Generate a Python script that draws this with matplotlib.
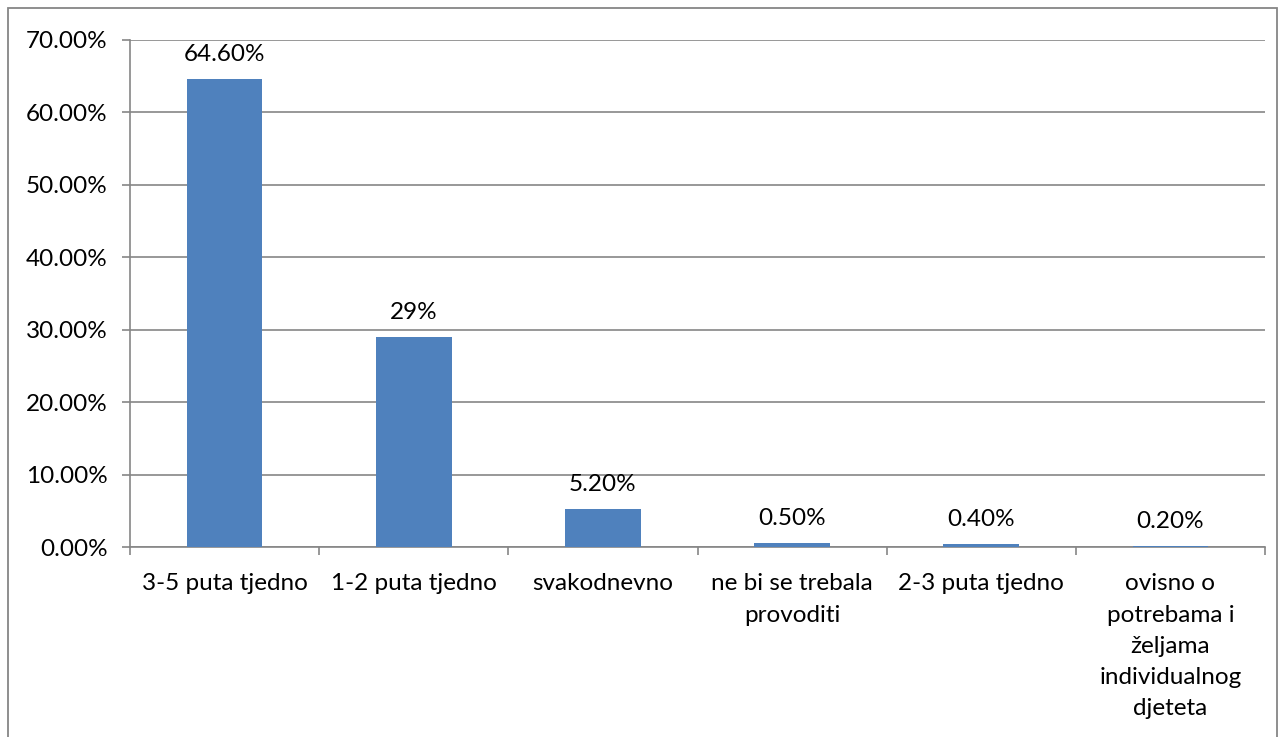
import matplotlib.pyplot as plt
import numpy as np
from matplotlib.patches import Rectangle
from matplotlib.ticker import FuncFormatter

categories = ['3-5 puta tjedno', '1-2 puta tjedno', 'svakodnevno',
              'ne bi se trebala\nprovoditi', '2-3 puta tjedno',
              'ovisno o\npotrebama i\nželjama\nindividualnog\ndjeteta']
values = [64.6, 29.0, 5.2, 0.5, 0.4, 0.2]
value_labels = ['64.60%', '29%', '5.20%', '0.50%', '0.40%', '0.20%']

plt.rcParams['font.family'] = ['Lato', 'DejaVu Sans']
W, H = 1281, 737
fig = plt.figure(figsize=(W / 100, H / 100), dpi=100)
grey = '#868686'
fs = 17.5

# outer chart border
fig.patches.append(Rectangle((8 / W, -0.01), (1277 - 8) / W, (H - 8) / H + 0.01,
                             transform=fig.transFigure, fill=False,
                             edgecolor=grey, linewidth=1.3))

ax = fig.add_axes([130 / W, (H - 547) / H, 1135 / W, 507 / H])
x = np.arange(len(categories))
ax.bar(x, values, width=0.4, color='#4F81BD', zorder=3)

for xi, v, lab in zip(x, values, value_labels):
    ax.annotate(lab, (xi, v), xytext=(0, 10), textcoords='offset points',
                ha='center', va='bottom', fontsize=fs)

ax.set_xlim(-0.5, len(categories) - 0.5)
ax.set_ylim(0, 70)
ax.set_yticks(np.arange(0, 71, 10))
ax.yaxis.set_major_formatter(FuncFormatter(lambda v, p: f'{v:.2f}%'))
ax.grid(axis='y', color=grey, linewidth=1.2, zorder=0)

ax.set_xticks(x)
ax.set_xticklabels(categories, fontsize=fs, linespacing=1.6, va='top')
ax.set_xticks(np.arange(-0.5, len(categories)), minor=True)
ax.tick_params(axis='x', which='major', length=0, pad=19)
ax.tick_params(axis='x', which='minor', length=6, color=grey, width=1.2)
ax.tick_params(axis='y', length=6, color=grey, width=1.2, pad=10, labelsize=fs)

for s in ['top', 'right']:
    ax.spines[s].set_visible(False)
for s in ['left', 'bottom']:
    ax.spines[s].set_color(grey)
    ax.spines[s].set_linewidth(1.2)

fig.savefig('out.png', dpi=100)
